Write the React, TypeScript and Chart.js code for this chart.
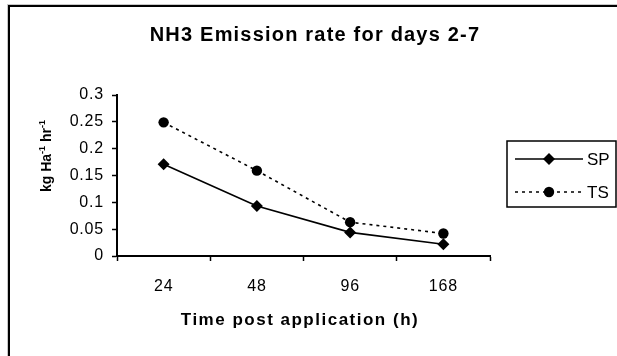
import React, { useEffect, useRef } from "react";
import { Chart, registerables } from "chart.js";

Chart.register(...registerables);

const categories = ["24", "48", "96", "168"];
const spValues = [0.171, 0.093, 0.044, 0.022];
const tsValues = [0.249, 0.159, 0.063, 0.042];
const yTicks = [0, 0.05, 0.1, 0.15, 0.2, 0.25, 0.3];
const seriesNames = ["SP", "TS"];
const titleText = "NH3 Emission rate for days 2-7";
const xTitleText = "Time post application (h)";

const FONT = "'Liberation Sans', Arial, sans-serif";

const spacingPlugin = {
  id: "spacing",
  beforeDraw(chart: any) {
    (chart.ctx as any).letterSpacing = "0.8px";
  },
};

const decorPlugin = {
  id: "decor",
  afterDraw(chart: any) {
    const ctx = chart.ctx as any;
    ctx.save();
    // frame
    ctx.fillStyle = "#c8c8c8";
    ctx.fillRect(7, 4, 610, 1);
    ctx.fillRect(7, 4, 1, 352);
    ctx.fillStyle = "#000";
    ctx.fillRect(8, 5, 609, 2);
    ctx.fillRect(8, 5, 2, 351);

    // title
    ctx.fillStyle = "#000";
    ctx.textAlign = "center";
    ctx.textBaseline = "middle";
    ctx.letterSpacing = "1.2px";
    ctx.font = `bold 20px ${FONT}`;
    ctx.fillText(titleText, 315, 35);

    // x title
    ctx.letterSpacing = "1.5px";
    ctx.font = `bold 17px ${FONT}`;
    ctx.fillText(xTitleText, 300, 320);
    ctx.letterSpacing = "0px";

    // y title with superscripts, rotated
    ctx.save();
    ctx.translate(46, 156);
    ctx.rotate(-Math.PI / 2);
    const parts: [string, boolean][] = [
      ["kg Ha", false],
      ["-1", true],
      [" hr", false],
      ["-1", true],
    ];
    const mainFont = `bold 14px ${FONT}`;
    const supFont = `bold 9px ${FONT}`;
    let total = 0;
    for (const [t, sup] of parts) {
      ctx.font = sup ? supFont : mainFont;
      total += ctx.measureText(t).width;
    }
    let x = -total / 2;
    ctx.textAlign = "left";
    ctx.textBaseline = "alphabetic";
    for (const [t, sup] of parts) {
      ctx.font = sup ? supFont : mainFont;
      ctx.fillText(t, x, sup ? -1 : 5);
      x += ctx.measureText(t).width;
    }
    ctx.restore();

    // legend
    const lx = 507, ly = 141, lw = 109, lh = 66;
    ctx.strokeStyle = "#000";
    ctx.lineWidth = 1.5;
    ctx.strokeRect(lx, ly, lw, lh);
    const rows = [159, 192];
    chart.data.datasets.forEach((ds: any, i: number) => {
      const y = rows[i];
      ctx.save();
      ctx.strokeStyle = "#000";
      ctx.lineWidth = 1.6;
      ctx.setLineDash(ds.borderDash || []);
      ctx.beginPath();
      ctx.moveTo(515, y);
      ctx.lineTo(583, y);
      ctx.stroke();
      ctx.restore();
      ctx.fillStyle = "#000";
      const cx = 549;
      if (ds.pointStyle === "rectRot") {
        const r = 6;
        ctx.beginPath();
        ctx.moveTo(cx, y - r);
        ctx.lineTo(cx + r, y);
        ctx.lineTo(cx, y + r);
        ctx.lineTo(cx - r, y);
        ctx.closePath();
        ctx.fill();
      } else {
        ctx.beginPath();
        ctx.arc(cx, y, 5.2, 0, Math.PI * 2);
        ctx.fill();
      }
      ctx.font = `17px ${FONT}`;
      ctx.textAlign = "left";
      ctx.textBaseline = "middle";
      ctx.fillText(ds.label, 587, y + 1);
    });
    ctx.restore();
  },
};

export default function App() {
  const ref = useRef<HTMLCanvasElement | null>(null);
  useEffect(() => {
    if (!ref.current) return;
    const chart = new Chart(ref.current, {
      type: "line",
      data: {
        labels: categories,
        datasets: [
          {
            label: seriesNames[0],
            data: spValues,
            borderColor: "#000",
            backgroundColor: "#000",
            borderWidth: 1.6,
            pointStyle: "rectRot",
            pointRadius: 6,
            pointBorderWidth: 0,
            tension: 0,
          },
          {
            label: seriesNames[1],
            data: tsValues,
            borderColor: "#000",
            backgroundColor: "#000",
            borderWidth: 1.6,
            borderDash: [3, 4],
            pointStyle: "circle",
            pointRadius: 5.2,
            pointBorderWidth: 0,
            tension: 0,
          },
        ],
      },
      options: {
        animation: false,
        responsive: false,
        maintainAspectRatio: false,
        layout: { padding: { left: 0, right: 127, top: 95, bottom: 0 } },
        plugins: { legend: { display: false }, title: { display: false }, tooltip: { enabled: false } },
        scales: {
          x: {
            type: "category",
            offset: true,
            afterFit: (s: any) => { s.height = 100; },
            grid: {
              offset: true,
              drawOnChartArea: false,
              drawTicks: true,
              tickLength: 5,
              tickColor: "#000",
              tickWidth: 1.5,
            },
            border: { color: "#000", width: 2 },
            ticks: {
              color: "#000",
              font: { family: FONT, size: 16 },
              padding: 16,
              maxRotation: 0,
            },
          },
          y: {
            min: 0,
            max: 0.3,
            afterFit: (s: any) => { s.width = 117; },
            afterBuildTicks: (s: any) => { s.ticks = yTicks.map((v) => ({ value: v })); },
            grid: {
              drawOnChartArea: false,
              drawTicks: true,
              tickLength: 5,
              tickColor: "#000",
              tickWidth: 1.5,
            },
            border: { color: "#000", width: 2 },
            ticks: {
              color: "#000",
              font: { family: FONT, size: 16 },
              padding: 8,
              callback: (v: any) => String(Number(v)),
            },
          },
        },
      },
      plugins: [spacingPlugin, decorPlugin],
    });
    return () => chart.destroy();
  }, []);
  return (
    <div style={{ position: "fixed", left: 0, top: 0, width: 617, height: 356, background: "#fff" }}>
      <canvas ref={ref} width={617} height={356} style={{ width: 617, height: 356, display: "block" }} />
    </div>
  );
}
